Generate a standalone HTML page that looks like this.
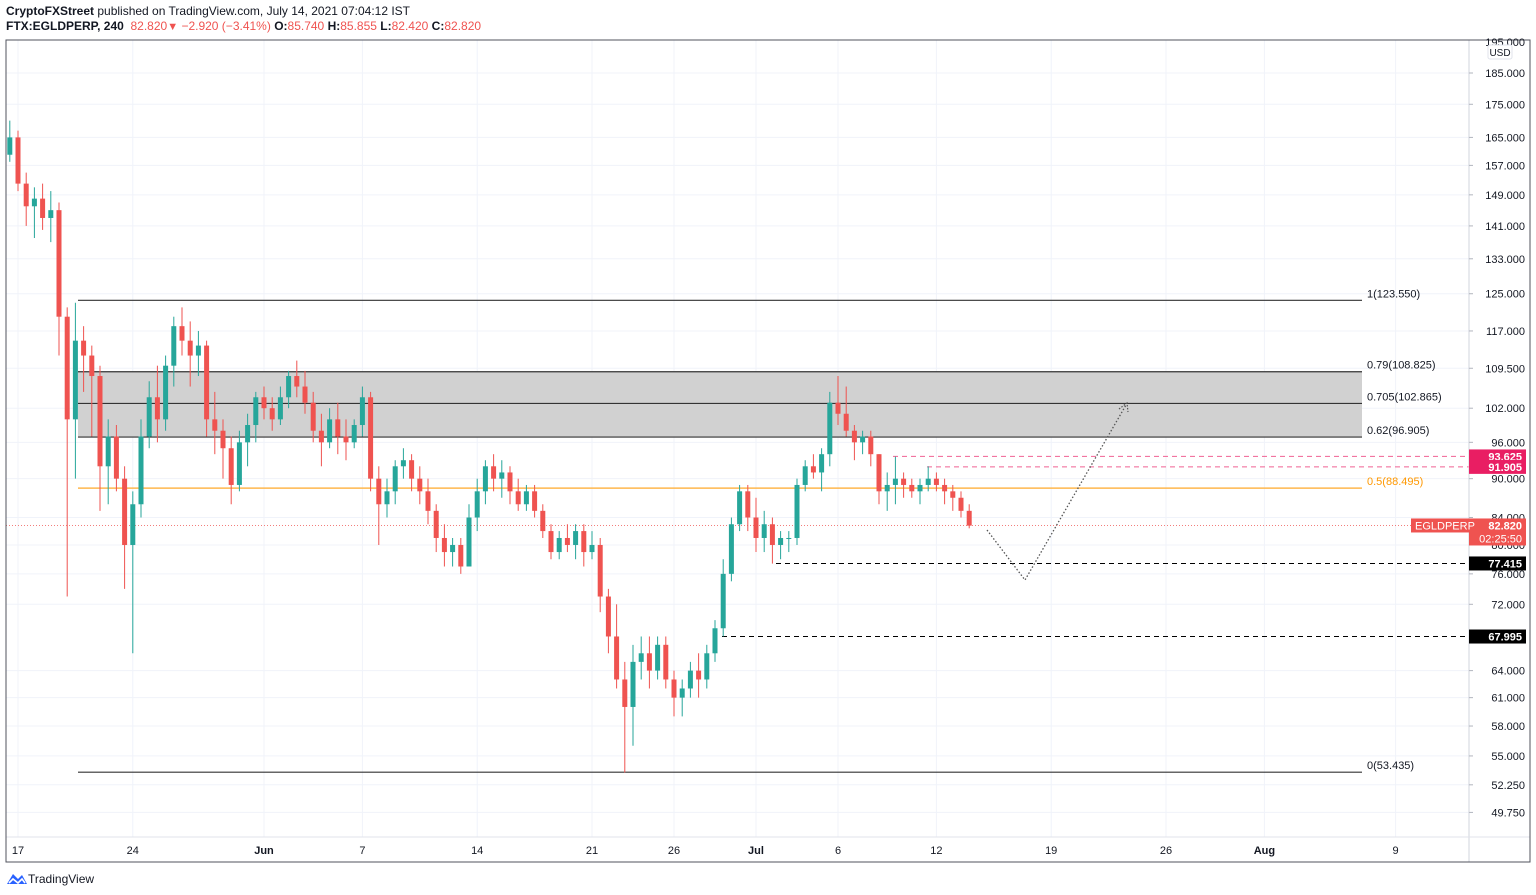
<!DOCTYPE html>
<html><head><meta charset="utf-8">
<style>
body{margin:0;background:#fff;width:1536px;height:895px;overflow:hidden;font-family:"Liberation Sans",Arial,sans-serif}
#hdr1{position:absolute;left:6px;top:4px;font-size:12px;color:#131722}
#hdr2{position:absolute;left:6px;top:19px;font-size:12px;color:#131722}
.r{color:#ef5350}
#foot{position:absolute;left:6px;top:871px;font-size:12px;color:#131722}
</style></head><body>
<div id="hdr1"><b>CryptoFXStreet</b> published on TradingView.com, July 14, 2021 07:04:12 IST</div>
<div id="hdr2"><b>FTX:EGLDPERP, 240</b>&nbsp; <span class="r">82.820</span><span class="r" style="font-size:11px">▼</span> <span class="r">−2.920 (−3.41%)</span> <b>O:</b><span class="r">85.740</span> <b>H:</b><span class="r">85.855</span> <b>L:</b><span class="r">82.420</span> <b>C:</b><span class="r">82.820</span></div>
<svg id="chart" width="1536" height="895" style="position:absolute;left:0;top:0"></svg>
<div id="foot"><svg width="22" height="14" style="vertical-align:-2px"><path d="M1 13 L7 3 L12 8 L16 4 L21 13 Z" fill="#2962ff"/><path d="M3 12 L7 8 L12 12 L16 8 L19 12" stroke="#fff" stroke-width="1.6" fill="none"/></svg>TradingView</div>
<script>
const opens=[160,165,152,146,148,143,145,120,100,115,112,108,92,97,90,80,86,97,104,100,110,118,115,112,114,100,98,95,89,96,99,104,102,100,104,108,106,103,98,96,100,97,96,99,104,90,86,88,92,93,90,88,85,81,79,80,77,84,88,92,90,91,88,86,88,85,82,79,81,80,82,79,80,73,68,63,60,65,66,64,67,63,61,62,64,63,66,69,76,83,88,84,81,83,80,81,81,89,92,91,94,103,101,98,96,97,94,88,89,90,89,88,89,90,89,88,87,85];
const highs=[170,167,155,151,152,150,147,122,123,118,114,110,100,99,92,88,100,107,110,112,120,122,119,117,115,105,100,97,98,101,105,106,104,106,109,111,109,105,101,102,103,100,100,106,105,92,90,93,95,94,92,90,86,83,81,81,86,90,93,94,93,92,90,89,89,86,83,82,83,83,83,82,81,74,72,65,67,68,68,68,68,64,63,65,66,67,70,78,84,89,89,87,85,84,82,82,90,93,94,95,105,108,106,99,98,98,94,91,93.6,91,90,90,92,91,90,89,88,86];
const lows=[158,150,141,138,140,137,112,73,90,105,97,85,86,88,74,66,84,95,96,98,106,112,106,108,97,94,90,86,88,92,96,100,98,99,102,104,101,96,92,95,94,93,95,97,88,80,84,86,90,88,86,83,79,77,77,76,77,82,86,88,87,86,85,85,84,81,78,78,79,78,77,78,71,66,62,53.4,56,63,62,63,62,59,59,61,61,62,65,68,75,82,82,79,79,77.4,78,79,80,88,90,88,92,99,97,93,94,92,86,85,86,87,87,86,88,88,86,85,84,82.4];
const closes=[165,152,146,148,143,145,120,100,115,112,108,92,97,90,80,86,97,104,100,110,118,115,112,114,100,98,95,89,96,99,104,102,100,104,108,106,103,98,96,100,97,96,99,104,90,86,88,92,93,90,88,85,81,79,80,77,84,88,92,90,91,88,86,88,85,82,79,81,80,82,79,80,73,68,63,60,65,66,64,67,63,61,62,64,63,66,69,76,83,88,84,81,83,80,81,81,89,92,91,94,103,101,98,96,97,94,88,89,90,89,88,89,90,89,88,87,85,82.8];
const priceTicks=[185,175,165,157,149,141,133,125,117,109.5,102,96,90,84,80,76,72,64,61,58,55,52.25,49.75];
const dateLabels=["17","24","Jun","7","14","21","26","Jul","6","12","19","26","Aug","9"];
const dateDays=[0,7,15,21,28,35,40,45,50,56,63,70,76,84];
const fibRatios=["1","0.79","0.705","0.62","0.5","0"];
const fibPrices=[123.55,108.825,102.865,96.905,88.495,53.435];
const supports=[77.415,67.995];
const resistances=[93.625,91.905];
const lastPrice=82.82;
const firstDay=-0.5, stepDay=0.5;

const svg=document.getElementById('chart');
const NS='http://www.w3.org/2000/svg';
const L=6,R=1469,T=40,B=837;
function y(p){return 73+(Math.log(185)-Math.log(p))*563;}
function x(d){return 18+16.4*d;}
function el(t,a,par){const e=document.createElementNS(NS,t);for(const k in a)e.setAttribute(k,a[k]);(par||svg).appendChild(e);return e;}
function txt(s,a,par){const e=el('text',a,par);e.textContent=s;return e;}

priceTicks.forEach(p=>{const g=el('line',{x1:L,x2:R,y1:y(p),y2:y(p),stroke:'#f0f3fa'});
});
dateDays.forEach(d=>{const g=el('line',{x1:x(d),x2:x(d),y1:T,y2:B,stroke:'#f0f3fa'});
});

const zone=el('rect',{x:78,y:y(fibPrices[1]),width:1362-78,height:y(fibPrices[3])-y(fibPrices[1]),fill:'#d1d1d1'});

fibPrices.forEach((p,i)=>{const orange=fibRatios[i]==='0.5';
const ln=el('line',{x1:78,x2:1362,y1:y(p),y2:y(p),stroke:orange?'#ffb74d':'#333','stroke-width':orange?1.5:1.2});

const t=txt(fibRatios[i]+'('+p.toFixed(3)+')',{x:1367,y:y(p)-3,'font-size':11,fill:orange?'#ff9800':'#131722'});
});

const supStart=[776,722];
supports.forEach((p,i)=>{const ln=el('line',{x1:supStart[i],x2:R,y1:y(p),y2:y(p),stroke:'#000','stroke-dasharray':'5 4'});
});
const resStart=[893,927];
resistances.forEach((p,i)=>{const ln=el('line',{x1:resStart[i],x2:R,y1:y(p),y2:y(p),stroke:'#f06292','stroke-dasharray':'5 4'});
});
const cur=el('line',{x1:L,x2:R,y1:y(lastPrice),y2:y(lastPrice),stroke:'#ef5350','stroke-dasharray':'1 2','stroke-width':0.8});


for(let i=0;i<opens.length;i++){
 const cx=x(firstDay+i*stepDay);const up=closes[i]>=opens[i];const c=up?'#26a69a':'#ef5350';
 const g=el('g',{});
 
 el('line',{x1:cx,x2:cx,y1:y(highs[i]),y2:y(lows[i]),stroke:c,'stroke-width':1},g);
 const t=Math.min(y(opens[i]),y(closes[i]));const h=Math.max(1,Math.abs(y(opens[i])-y(closes[i])));
 el('rect',{x:cx-2.5,y:t,width:5,height:h,fill:c},g);
}

const proj=el('polyline',{points:'987,530 1025,580 1126,405',fill:'none',stroke:'#555','stroke-dasharray':'1.5 2','stroke-width':1.3});

const ah=el('polyline',{points:'1119,409 1127,403 1128,412',fill:'none',stroke:'#555','stroke-dasharray':'1.5 1.5','stroke-width':1.2});


const ax=el('line',{x1:R,x2:R,y1:T,y2:862,stroke:'#d1d4dc'});

const tx=el('line',{x1:L,x2:1530,y1:B,y2:B,stroke:'#e0e3eb'});

const fr=el('rect',{x:L,y:T,width:1530-L,height:862-T,fill:'none',stroke:'#50535e','stroke-width':1});

priceTicks.forEach(p=>{el('line',{x1:R,x2:R+4,y1:y(p),y2:y(p),stroke:'#b2b5be'});
const t=txt(p.toFixed(3),{x:1525,y:y(p)+4,'font-size':11,fill:'#131722','text-anchor':'end'});
});
const t195=txt('195.000',{x:1525,y:46,'font-size':11,fill:'#131722','text-anchor':'end'});

const usd=el('rect',{x:1488,y:45,width:24,height:14,rx:2,fill:'#fff',stroke:'#e0e3eb'});

txt('USD',{x:1500,y:56,'font-size':10,fill:'#131722','text-anchor':'middle'});
dateLabels.forEach((s,i)=>{const bold=(s==='Jun'||s==='Jul'||s==='Aug');
const t=txt(s,{x:x(dateDays[i]),y:854,'font-size':11,fill:'#131722','text-anchor':'middle','font-weight':bold?'bold':'normal'});
});

function tag(p,bg,label,h){const yy=y(p);const r=el('rect',{x:R,y:yy-7,width:57,height:h||14,fill:bg});

txt(label,{x:1522,y:yy+4,'font-size':11,fill:'#fff','text-anchor':'end','font-weight':'bold'});}
resistances.forEach(p=>tag(p,'#e91e63',p.toFixed(3)));
supports.forEach(p=>tag(p,'#000',p.toFixed(3)));
tag(lastPrice,'#ef5350',lastPrice.toFixed(3),27);
txt('02:25:50',{x:1522,y:y(lastPrice)+17,'font-size':11,fill:'#fff','text-anchor':'end'});
const sb=el('rect',{x:1411,y:y(lastPrice)-7,width:58,height:14,fill:'#ef5350'});

txt('EGLDPERP',{x:1415,y:y(lastPrice)+4,'font-size':11,fill:'#fff'});
</script>
</body></html>
